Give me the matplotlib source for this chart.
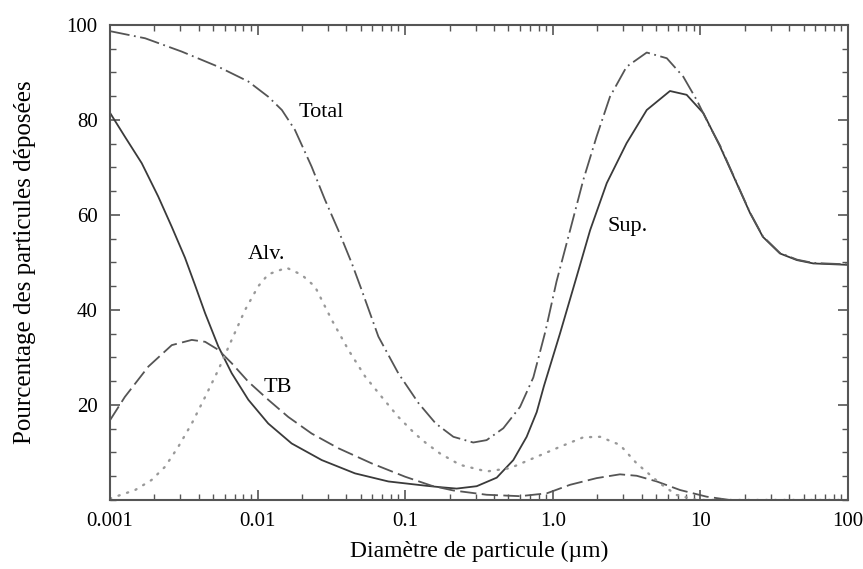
import numpy as np
import matplotlib
matplotlib.use('Agg')
import matplotlib.pyplot as plt
from matplotlib.ticker import LogLocator, FixedLocator, NullFormatter

# valeurs (diametre en um, pourcentage)
sup_x = [0.001, 0.00126, 0.00164, 0.00212, 0.00262, 0.00322, 0.00377, 0.00441, 0.00542, 0.00667,
         0.00865, 0.0118, 0.0170, 0.0272, 0.0457, 0.0769, 0.138, 0.172, 0.223, 0.305,
         0.417, 0.540, 0.665, 0.778, 0.871, 1.12, 1.45, 1.79, 2.32, 3.16,
         4.33, 6.22, 8.07, 10.5, 13.6, 17.6, 21.7, 26.5, 34.6, 45.1, 58.2, 100.0]
sup_y = [81.5, 76.5, 70.9, 63.9, 57.5, 51.0, 45.2, 39.3, 32.3, 26.7,
         21.1, 16.1, 11.9, 8.4, 5.6, 3.9, 3.0, 2.7, 2.4, 2.9,
         4.7, 8.4, 13.3, 18.5, 24.0, 35.1, 47.0, 56.8, 66.7, 75.1,
         82.1, 86.1, 85.3, 81.4, 74.4, 66.7, 60.4, 55.4, 51.9, 50.5, 49.8, 49.5]

total_x = [0.001, 0.00173, 0.00306, 0.00542, 0.00865, 0.0118, 0.0146, 0.0179, 0.0232, 0.0286,
           0.0352, 0.0435, 0.0507, 0.0658, 0.0897, 0.123, 0.161, 0.212, 0.289, 0.356,
           0.462, 0.600, 0.738, 0.891, 1.06, 1.31, 1.61, 1.98, 2.44, 3.16,
           4.33, 5.92, 7.66, 9.44, 11.6, 13.6, 17.6, 21.7, 26.5, 34.6, 45.1, 58.2, 100.0]
total_y = [98.7, 97.2, 94.4, 91.2, 88.1, 84.9, 82.1, 77.9, 70.2, 63.2,
           56.8, 49.8, 44.2, 34.4, 26.7, 20.4, 16.1, 13.3, 12.1, 12.6,
           15.1, 19.6, 25.8, 35.5, 46.0, 56.8, 67.4, 76.5, 84.9, 91.2,
           94.2, 93.0, 89.1, 84.2, 78.6, 74.6, 66.8, 60.5, 55.5, 52.0, 50.6, 49.9, 49.6]

alv_x = [0.001, 0.00148, 0.00191, 0.00236, 0.00290, 0.00358, 0.00441, 0.00542, 0.00667, 0.00822,
         0.0101, 0.0118, 0.0157, 0.0199, 0.0245, 0.0318, 0.0412, 0.0535, 0.0693, 0.0897,
         0.116, 0.138, 0.172, 0.235, 0.356, 0.513, 0.778, 1.12, 1.61, 2.09,
         2.85, 3.70, 5.32, 6.90, 9.44, 100.0]
alv_y = [0.3, 2.1, 4.2, 7.0, 11.2, 16.1, 21.7, 27.4, 33.7, 40.0,
         45.0, 47.5, 48.9, 47.4, 44.9, 37.9, 31.6, 26.0, 21.7, 17.5,
         14.0, 12.0, 9.8, 7.4, 6.0, 6.7, 9.1, 11.2, 13.2, 13.3,
         11.6, 7.7, 3.5, 1.05, 0.0, 0.0]

tb_x = [0.001, 0.00126, 0.00182, 0.00262, 0.00358, 0.00441, 0.00542, 0.00667, 0.00865, 0.0118,
        0.0161, 0.0232, 0.0352, 0.0593, 0.0998, 0.151, 0.212, 0.356, 0.600, 0.910,
        1.31, 1.98, 2.85, 3.70, 5.06, 7.28, 11.0, 15.8, 100.0]
tb_y = [16.8, 21.7, 28.1, 32.6, 33.7, 33.3, 31.6, 28.8, 24.9, 21.1,
        17.5, 14.0, 10.9, 7.7, 4.9, 3.0, 2.0, 1.1, 0.8, 1.4,
        3.2, 4.6, 5.4, 5.1, 3.9, 2.1, 0.7, 0.0, 0.0]

xticks = [0.001, 0.01, 0.1, 1.0, 10, 100]
xlabels = ['0.001', '0.01', '0.1', '1.0', '10', '100']
yticks = [20, 40, 60, 80, 100]

plt.rcParams['font.family'] = ['Liberation Serif', 'DejaVu Serif']

fig = plt.figure(figsize=(8.63, 5.69), dpi=100)
ax = fig.add_axes([0.1275, 0.1213, 0.8551, 0.8348])

ax.plot(sup_x, sup_y, color='#3a3a3a', lw=1.3, solid_joinstyle='round')
ax.plot(total_x, total_y, color='#555555', lw=1.3, linestyle=(0, (11, 2.5, 1, 2.5)))
ax.plot(tb_x, tb_y, color='#555555', lw=1.3, linestyle=(0, (9, 3)))
ax.plot(alv_x, alv_y, color='#999999', lw=1.7, linestyle=(0, (0.5, 3.3)), dash_capstyle='round')

ax.set_xscale('log')
ax.set_xlim(0.001, 100)
ax.set_ylim(0, 100)
ax.set_xticks(xticks)
ax.set_xticklabels(xlabels)
ax.xaxis.set_minor_locator(LogLocator(base=10, subs=np.arange(2, 10)))
ax.xaxis.set_minor_formatter(NullFormatter())
ax.set_yticks(yticks)
ax.yaxis.set_minor_locator(FixedLocator(np.arange(0, 101, 5)))

ax.tick_params(which='both', direction='in', top=True, right=True, color='#555555', labelsize=15)
ax.tick_params(which='major', length=7, width=1.2, pad=9)
ax.tick_params(which='minor', length=4, width=1.0)
for s in ax.spines.values():
    s.set_color('#555555')
    s.set_linewidth(1.5)

ax.set_xlabel('Diamètre de particule (µm)', fontsize=17, labelpad=7)
ax.set_ylabel('Pourcentage des particules déposées', fontsize=18, labelpad=22)

ax.text(0.0188, 81.5, 'Total', fontsize=16, ha='left', va='center')
ax.text(0.0086, 51.6, 'Alv.', fontsize=16, ha='left', va='center')
ax.text(0.0109, 23.6, 'TB', fontsize=16, ha='left', va='center')
ax.text(2.33, 57.5, 'Sup.', fontsize=16, ha='left', va='center')

fig.savefig('out.png', dpi=100)
